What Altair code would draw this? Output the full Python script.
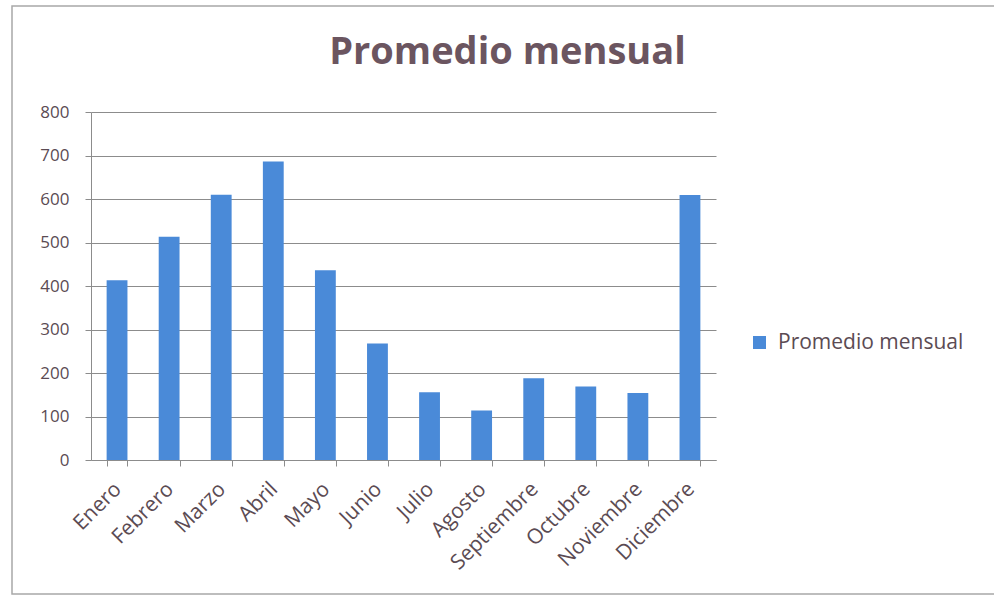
import altair as alt
import pandas as pd

meses = ["Enero", "Febrero", "Marzo", "Abril", "Mayo", "Junio", "Julio",
         "Agosto", "Septiembre", "Octubre", "Noviembre", "Diciembre"]
valores = [413, 513, 610, 686, 436, 268, 156, 114, 188, 169, 154, 609]
serie = "Promedio mensual"
y_ticks = [0, 100, 200, 300, 400, 500, 600, 700, 800]

df = pd.DataFrame({"mes": meses, "valor": valores, "serie": [serie] * len(meses)})

FONT = "Open Sans"
TEXT = "#5b4b53"
GRID = "#8c8c8c"

# outer frame of the chart (decoration only)
frame = alt.Chart(pd.DataFrame({"k": [0]})).mark_rect(
    fill=None, stroke="#a8a8a8", strokeWidth=1.5
).encode(
    x=alt.value(-79), x2=alt.value(910), y=alt.value(-106), y2=alt.value(482)
)

bars = alt.Chart(df).mark_bar(color="#4a8ad8").encode(
    x=alt.X("mes:N", sort=meses, title=None,
            scale=alt.Scale(paddingInner=0.6, paddingOuter=0.3),
            axis=alt.Axis(labelAngle=-45, labelAlign="right", labelBaseline="top",
                          labelFontSize=21, labelColor=TEXT, labelFont=FONT,
                          tickBand="extent", tickSize=6, tickColor=GRID,
                          grid=False, domainColor=GRID, labelPadding=12,
                          labelOffset=-7)),
    y=alt.Y("valor:Q", title=None,
            scale=alt.Scale(domain=[0, 800], nice=False),
            axis=alt.Axis(values=y_ticks, labelFontSize=17, labelColor=TEXT,
                          labelFont=FONT, tickSize=6, tickColor=GRID,
                          domainColor=GRID, gridColor=GRID, labelPadding=16)),
    color=alt.Color("serie:N", title=None,
                    scale=alt.Scale(range=["#4a8ad8"]),
                    legend=alt.Legend(orient="none", legendX=658, legendY=220,
                                      symbolType="square", symbolSize=170,
                                      labelFontSize=21, labelFont=FONT,
                                      labelLimit=400,
                                      labelColor=TEXT, labelOffset=8)),
)

chart = alt.layer(frame, bars).properties(
    width=625, height=348,
    title=alt.TitleParams(serie, fontSize=38, font=FONT, fontWeight="bold",
                          color="#6b5560", anchor="middle", dx=104, offset=-67),
    autosize=alt.AutoSizeParams(type="none"),
    padding={"left": 91, "top": 112, "right": 278, "bottom": 137},
).configure(background="white").configure_view(stroke=None)

chart.save("out.html", embed_options={"renderer": "svg", "actions": False})
